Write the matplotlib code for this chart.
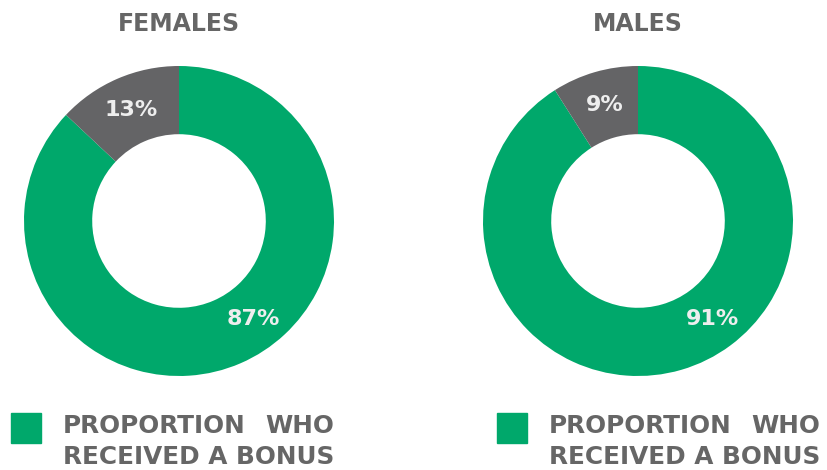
import matplotlib
matplotlib.use("Agg")
import matplotlib.pyplot as plt
import numpy as np

# data
groups = ["FEMALES", "MALES"]
bonus_pct = [87, 91]
no_bonus_pct = [13, 9]
legend_lines = ["PROPORTION", "WHO", "RECEIVED A BONUS"]

GREEN = "#00a86b"
DARK = "#646466"
TEXT = "#666666"
LABEL = "#eeeeee"

W, H = 827, 470
fig = plt.figure(figsize=(W / 100, H / 100), dpi=100)
plt.rcParams['font.family'] = ['DejaVu Sans']

centers_x = [179, 638]
center_y = 221
r_px = 155
legend_x = [11, 497]

for i, name in enumerate(groups):
    cx = centers_x[i]
    ax = fig.add_axes([(cx - r_px) / W, (H - center_y - r_px) / H, 2 * r_px / W, 2 * r_px / H])
    vals = [bonus_pct[i], no_bonus_pct[i]]
    ax.pie(vals, colors=[GREEN, DARK], startangle=90, counterclock=False,
           radius=1, wedgeprops=dict(width=0.44, linewidth=0))
    ax.set_xlim(-1, 1)
    ax.set_ylim(-1, 1)
    ax.set_aspect("equal")
    ax.axis("off")

    mid_r = 1 - 0.44 / 2
    # grey wedge label at wedge middle
    a = np.deg2rad(90 + no_bonus_pct[i] / 100 * 360 / 2)
    ax.text(mid_r * np.cos(a), mid_r * np.sin(a), f"{no_bonus_pct[i]}%", ha="center", va="center",
            color=LABEL, fontsize=16, fontweight="bold")
    a = np.deg2rad(-52)
    ax.text(mid_r * np.cos(a), mid_r * np.sin(a) - 0.02, f"{bonus_pct[i]}%", ha="center", va="center",
            color=LABEL, fontsize=16, fontweight="bold")

    fig.text(cx / W, 1 - 24 / H, name, ha="center", va="center", color=TEXT,
             fontsize=17, fontweight="bold")

    # legend square + justified two-line label
    lx = legend_x[i]
    fig.patches.append(plt.Rectangle((lx / W, 1 - 443 / H), 30 / W, 30 / H,
                                     transform=fig.transFigure, color=GREEN))
    tx = lx + 52
    t2 = fig.text(tx / W, 1 - 457 / H, legend_lines[2], ha="left", va="center",
                  color=TEXT, fontsize=17.8, fontweight="bold")
    fig.text(tx / W, 1 - 426 / H, legend_lines[0], ha="left", va="center",
             color=TEXT, fontsize=17.8, fontweight="bold")
    fig.canvas.draw()
    bb = t2.get_window_extent()
    fig.text(bb.x1 / W, 1 - 426 / H, legend_lines[1], ha="right", va="center",
             color=TEXT, fontsize=17.8, fontweight="bold")

fig.savefig("out.png", dpi=100)
